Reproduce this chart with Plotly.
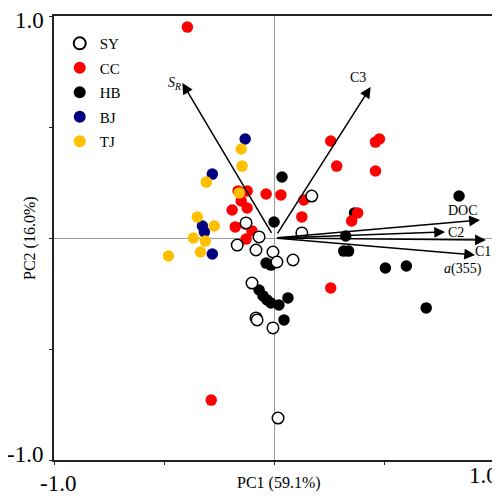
import plotly.graph_objects as go

# ---- data (PC1, PC2 scores) ----
sy_x = [0.169, 0.124, -0.129, -0.070, -0.169, -0.084, -0.007, 0.011, 0.084, -0.102, -0.084, -0.079, -0.007, 0.016]
sy_y = [0.189, 0.023, 0.068, 0.005, -0.032, -0.054, -0.063, -0.108, -0.099, -0.203, -0.360, -0.369, -0.405, -0.811]

cc_x = [-0.395, -0.165, -0.124, -0.151, -0.192, -0.124, -0.038, 0.029, -0.178, -0.133, -0.102, -0.129,
        0.133, 0.124, 0.255, 0.282, 0.458, 0.476, 0.458, 0.377, 0.350, -0.287, 0.255]
cc_y = [0.950, 0.212, 0.212, 0.167, 0.126, 0.135, 0.198, 0.194, 0.050, 0.063, 0.032, -0.005,
        0.171, 0.095, 0.437, 0.324, 0.432, 0.446, 0.302, 0.113, 0.077, -0.730, -0.225]

hb_x = [0.034, -0.002, 0.363, 0.323, 0.314, 0.336, 0.837, 0.503, 0.598, 0.688,
        -0.038, -0.016, -0.070, -0.052, -0.034, -0.016, 0.020, 0.061, 0.043]
hb_y = [0.275, 0.072, 0.113, 0.009, -0.059, -0.059, 0.189, -0.135, -0.126, -0.315,
        -0.113, -0.122, -0.234, -0.261, -0.279, -0.293, -0.302, -0.270, -0.369]

bj_x = [-0.133, -0.282, -0.327, -0.318, -0.282]
bj_y = [0.446, 0.288, 0.054, 0.027, -0.072]

tj_x = [-0.151, -0.147, -0.309, -0.160, -0.350, -0.273, -0.368, -0.314, -0.336, -0.481]
tj_y = [0.401, 0.324, 0.252, 0.203, 0.095, 0.054, 0.000, -0.014, -0.063, -0.081]

# ---- loadings (arrows) ----
load_names = ["S_R", "C3", "DOC", "C2", "C1", "a355"]
load_x = [-0.418, 0.436, 0.932, 0.774, 0.959, 0.910]
load_y = [0.698, 0.680, 0.081, 0.027, -0.009, -0.077]
load_text = ["<i>S</i><sub><i>R</i></sub>", "C3", "DOC", "C2", "C1", "<i>a</i>(355)"]
label_x = [-0.454, 0.377, 0.855, 0.824, 0.945, 0.855]
label_y = [0.694, 0.721, 0.126, 0.023, -0.059, -0.140]

tick_vals = [-1.0, -0.5, 0.0, 0.5, 1.0]

FONT = "Liberation Serif, Times New Roman, serif"

fig = go.Figure()

def add(name, xs, ys, color, rank, open_=False):
    if open_:
        marker = dict(size=11.5, color="white", line=dict(color="black", width=1.5))
    else:
        marker = dict(size=11.5, color=color, line=dict(width=0))
    fig.add_trace(go.Scatter(x=xs, y=ys, mode="markers", name=name, marker=marker,
                             legendrank=rank, legendgroup=name, cliponaxis=False))

add("HB", hb_x, hb_y, "#000000", 3)
add("CC", cc_x, cc_y, "#FF0000", 2)
add("SY", sy_x, sy_y, "black", 1, open_=True)
add("BJ", bj_x, bj_y, "#000080", 4)
add("TJ", tj_x, tj_y, "#FFC000", 5)

annotations = []
for lx, ly in zip(load_x, load_y):
    annotations.append(dict(x=lx, y=ly, ax=0, ay=0, xref="x", yref="y", axref="x", ayref="y",
                            text=" ", showarrow=True, arrowhead=2, arrowsize=1.45, arrowwidth=1.5,
                            arrowcolor="black", standoff=0, startstandoff=0))
for t, lx, ly in zip(load_text, label_x, label_y):
    annotations.append(dict(x=lx, y=ly, xref="x", yref="y", text=t, showarrow=False,
                            font=dict(family=FONT, size=14, color="black")))

tick_font = dict(family=FONT, size=23, color="black")
annotations += [
    dict(x=-1.0, y=1.0, xref="x", yref="y", text="1.0", showarrow=False, font=tick_font,
         xanchor="right", yanchor="middle", xshift=-8, yshift=-4),
    dict(x=-1.0, y=-1.0, xref="x", yref="y", text="-1.0", showarrow=False, font=tick_font,
         xanchor="right", yanchor="middle", xshift=-9, yshift=6),
    dict(x=-1.0, y=-1.0, xref="x", yref="y", text="-1.0", showarrow=False, font=tick_font,
         xanchor="center", yanchor="middle", xshift=4, yshift=-23),
    dict(x=1.0, y=-1.0, xref="x", yref="y", text="1.0", showarrow=False, font=tick_font,
         xanchor="center", yanchor="middle", xshift=-12, yshift=-15),
    dict(x=0.02, y=-1.0, xref="x", yref="y", text="PC1 (59.1%)", showarrow=False,
         font=dict(family=FONT, size=16, color="black"), xanchor="center", yanchor="top", yshift=-12),
    dict(x=-1.0, y=0.0, xref="x", yref="y", text="PC2 (16.0%)", showarrow=False, textangle=-90,
         font=dict(family=FONT, size=16, color="black"), xanchor="center", yanchor="middle", xshift=-24),
]

axis_common = dict(range=[-1, 1], tickvals=tick_vals, ticktext=["", "", "", "", ""],
                   ticks="outside", ticklen=3, tickwidth=1.2, tickcolor="#222",
                   showline=True, linecolor="#222", linewidth=1.5, mirror=True,
                   showgrid=False, zeroline=True, zerolinecolor="#9a9a9a", zerolinewidth=1,
                   fixedrange=True)

# page body has an 8px margin, so the figure is sized/positioned to compensate
fig.update_layout(
    width=492, height=489,
    margin=dict(l=46, r=3, t=8, b=37),
    paper_bgcolor="white", plot_bgcolor="white",
    xaxis=axis_common, yaxis=axis_common,
    annotations=annotations,
    showlegend=True,
    legend=dict(x=0.013, y=0.975, xanchor="left", yanchor="top",
                font=dict(family=FONT, size=15, color="black"),
                bgcolor="rgba(0,0,0,0)", tracegroupgap=2, traceorder="grouped",
                itemsizing="constant"),
    font=dict(family=FONT),
)

fig.write_html("out.html")
